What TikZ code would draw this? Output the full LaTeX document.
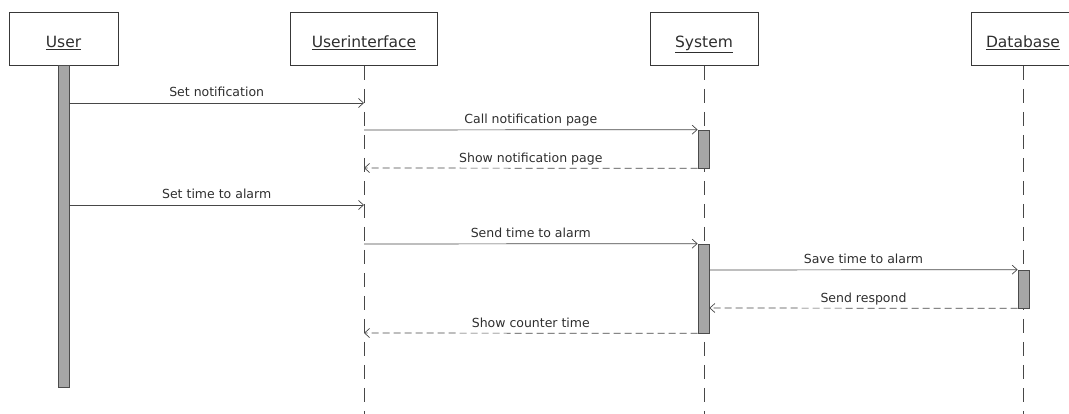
\documentclass[tikz,border=0pt]{standalone}
\usepackage{fontspec}
\setmainfont{DejaVu Sans}
\usetikzlibrary{arrows.meta}
\begin{document}
\begin{tikzpicture}[x=1pt,y=-1pt,
  line/.style={draw=black!72, line width=0.7pt},
  head/.style={draw=black!78, line width=0.9pt, minimum height=53pt, inner sep=0pt,
    text height=18pt, text depth=0pt,
    font=\fontsize{15.5}{18}\selectfont, text=black!82},
  life/.style={draw=black!72, line width=0.8pt, dash pattern=on 14pt off 9pt},
  actbar/.style={draw=black!70, fill=black!35, line width=0.7pt, minimum width=11pt, inner sep=0pt},
  call/.style={line, -{Straight Barb[length=5pt,width=9pt]}},
  reply/.style={call, dash pattern=on 7pt off 4pt},
  lbl/.style={midway, anchor=base, yshift=6pt, inner sep=0pt,
    font=\fontsize{12.5}{15}\selectfont, text=black!82}
]
\useasboundingbox (0,0) rectangle (1069,414);
\begin{scope}
\clip (0,0) rectangle (1069,414);

% participant heads
\node[head, minimum width=109pt] (usr) at (63.5,39) {\underline{User}};
\node[head, minimum width=147pt] (ui)  at (364,39)  {\underline{Userinterface}};
\node[head, minimum width=108pt] (sys) at (704,39)  {\underline{System}};
\node[head, minimum width=103pt] (db)  at (1023,39) {\underline{Database}};

% lifelines
\draw[life] (ui.south)  -- (ui.south |- 0,414);
\draw[life] (sys.south) -- (sys.south |- 0,414);
\draw[life] (db.south)  -- (db.south |- 0,414);

% activation bars
\node[actbar, minimum height=322pt] (ubar)  at (63.5,226)  {};
\node[actbar, minimum height=38pt]  (sbar1) at (703.5,149) {};
\node[actbar, minimum height=89pt]  (sbar2) at (703.5,288.5) {};
\node[actbar, minimum height=38pt]  (dbar)  at (1023.5,289) {};

% messages
\draw[call]  (ubar.east |- 0,103) -- node[lbl]{Set notification} (ui.south |- 0,103);
\draw[call]  (ui.south |- 0,130) -- node[lbl]{Call notification page} (sbar1.north west);
\draw[reply] (sbar1.south west) -- node[lbl]{Show notification page} (ui.south |- 0,168);
\draw[call]  (ubar.east |- 0,205) -- node[lbl]{Set time to alarm} (ui.south |- 0,205);
\draw[call]  (ui.south |- 0,244) -- node[lbl]{Send time to alarm} (sbar2.north west);
\draw[call]  (sbar2.east |- 0,270) -- node[lbl]{Save time to alarm} (dbar.north west);
\draw[reply] (dbar.south west) -- node[lbl]{Send respond} (sbar2.east |- 0,308);
\draw[reply] (sbar2.south west) -- node[lbl]{Show counter time} (ui.south |- 0,333);
\end{scope}
\end{tikzpicture}
\end{document}
